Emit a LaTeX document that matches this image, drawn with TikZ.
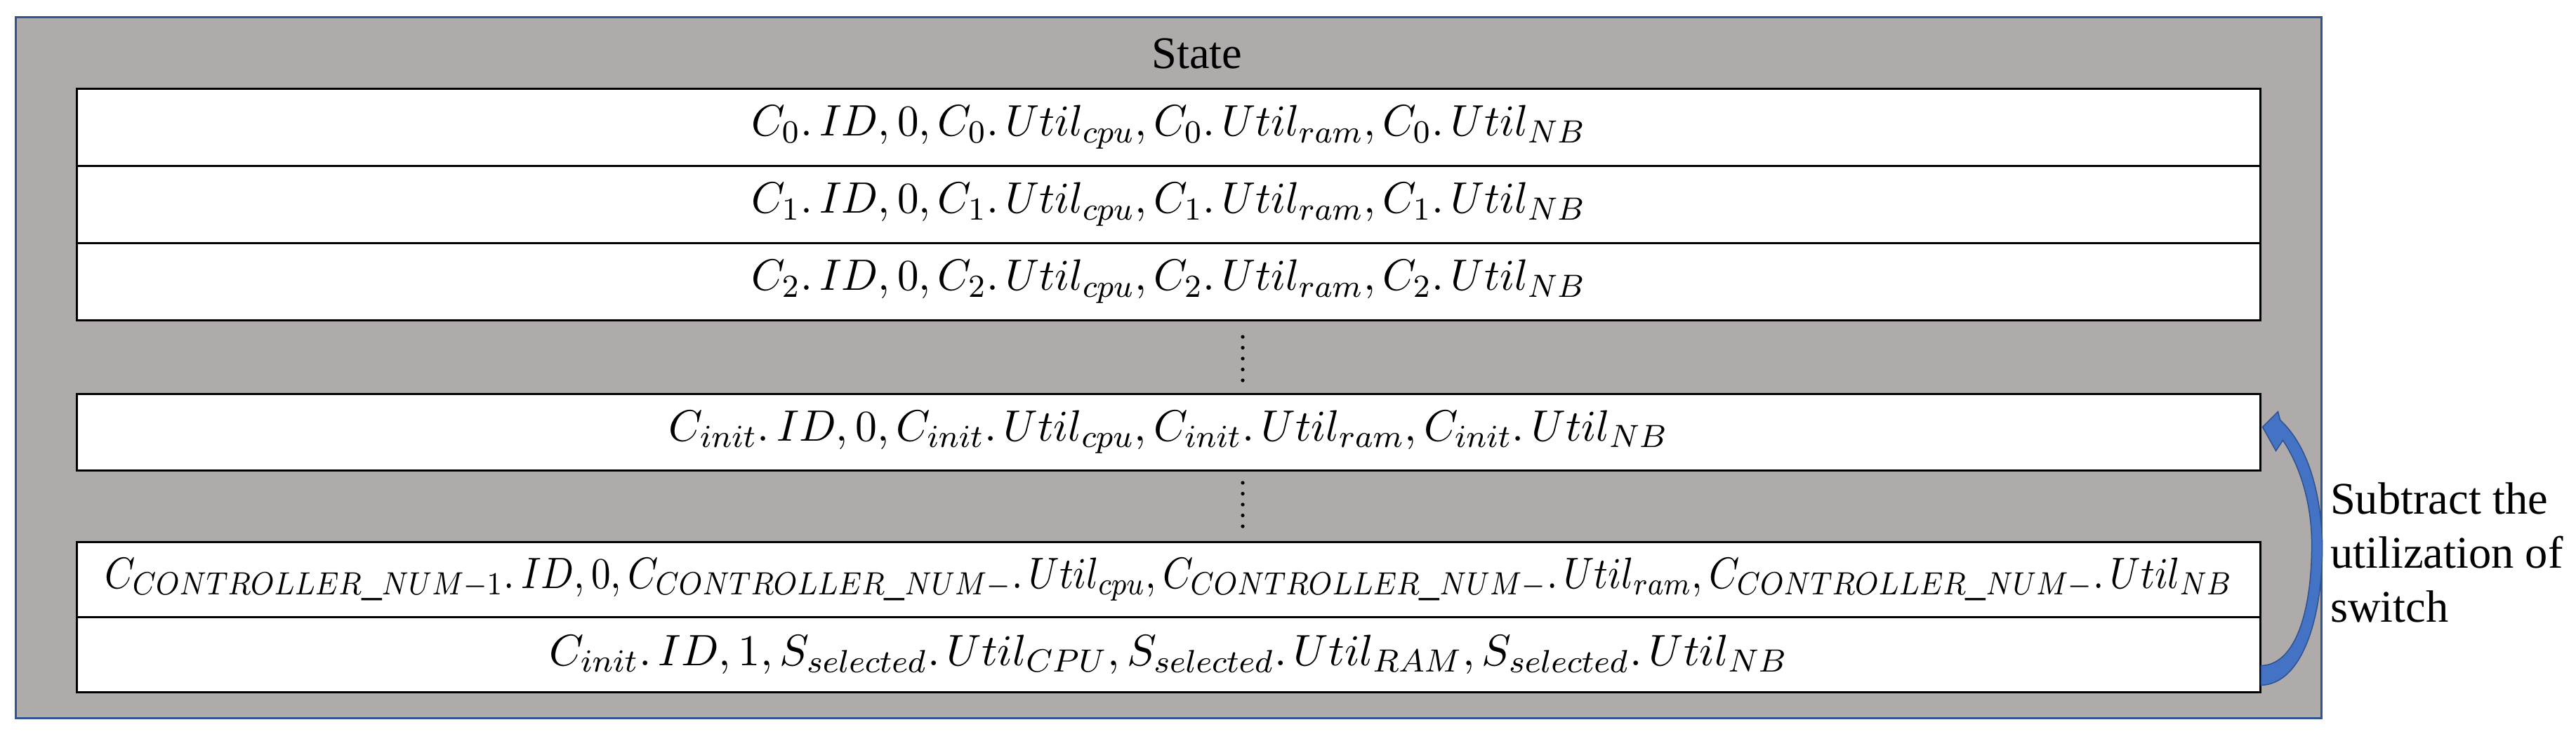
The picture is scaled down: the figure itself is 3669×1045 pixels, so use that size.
\documentclass[tikz,border=0pt]{standalone}
\usepackage[no-math]{fontspec}
\setmainfont{Liberation Serif}
\usetikzlibrary{calc}
\definecolor{framegray}{RGB}{175,171,171}
\definecolor{frameblue}{RGB}{47,85,151}
\definecolor{arrowblue}{RGB}{68,114,196}
\definecolor{arrowedge}{RGB}{47,82,143}
\newcommand{\rowtxt}[2]{\resizebox{#1}{8.7pt}{$#2$}}
\begin{document}
\begin{tikzpicture}[x=0.2pt,y=-0.2pt,
  framebox/.style={draw=frameblue, fill=framegray, line width=0.6pt, inner sep=0pt,
    minimum width=656.6pt, minimum height=199.8pt},
  rowbox/.style={draw=black, fill=white, line width=0.6pt, inner sep=0pt,
    minimum width=621.8pt, minimum height=22pt, font=\fontsize{11.4}{13}\selectfont},
  labeltext/.style={font=\fontsize{12.9}{15.4}\selectfont, inner sep=0pt},
  dotmark/.style={fill=black}
]
\useasboundingbox (0,0) rectangle (3669,1045);
% outer frame
\node[framebox] (frame) at (1664.5,523.5) {};
\node[labeltext, anchor=base] (state) at (1705,97) {State};
% rows
\node[rowbox] (r0) at (1664.5,181) {\rowtxt{237.7pt}{C_0.\,ID, 0, C_0.\,Util_{cpu}, C_0.\,Util_{ram}, C_0.\,Util_{NB}}};
\node[rowbox] (r1) at (1664.5,291) {\rowtxt{237.7pt}{C_1.\,ID, 0, C_1.\,Util_{cpu}, C_1.\,Util_{ram}, C_1.\,Util_{NB}}};
\node[rowbox] (r2) at (1664.5,401) {\rowtxt{237.7pt}{C_2.\,ID, 0, C_2.\,Util_{cpu}, C_2.\,Util_{ram}, C_2.\,Util_{NB}}};
\node[rowbox, minimum height=21.8pt] (cinit) at (1664.5,615.5) {\rowtxt{284.6pt}{C_{init}.\,ID, 0, C_{init}.\,Util_{cpu}, C_{init}.\,Util_{ram}, C_{init}.\,Util_{NB}}};
\node[rowbox, minimum height=21.4pt] (ctrl) at (1664.5,825.5) {\rowtxt{606pt}{C_{CONTROLLER\_NUM-1}.\,ID, 0, C_{CONTROLLER\_NUM-}.\,Util_{cpu}, C_{CONTROLLER\_NUM-}.\,Util_{ram}, C_{CONTROLLER\_NUM-}.\,Util_{NB}}};
\node[rowbox, minimum height=21.4pt] (last) at (1664.5,932.5) {\rowtxt{352.8pt}{C_{init}.\,ID, 1, S_{selected}.\,Util_{CPU}, S_{selected}.\,Util_{RAM}, S_{selected}.\,Util_{NB}}};
% vertical dots
\foreach \i in {0,...,4}{
  \fill[dotmark] (1770,480+15.5*\i) circle (2.6);
  \fill[dotmark] (1770,688+15.5*\i) circle (2.6);
}
% curved arrow
\path[fill=arrowblue, draw=arrowedge, line width=0.3pt]
  ($(last.east)+(0,44)$)
  .. controls ($(last.east)+(62,42)$) and ($(last.east)+(89,-62)$) .. ($(last.east)+(87,-162)$)
  .. controls ($(cinit.east)+(84,75)$) and ($(cinit.east)+(62,15)$) .. ($(cinit.east)+(27,-17)$)
  -- ($(cinit.east)+(24,-29)$)
  -- ($(cinit.east)+(2,-7)$)
  -- ($(cinit.east)+(21,27)$)
  -- ($(cinit.east)+(31,12)$)
  .. controls ($(cinit.east)+(53,45)$) and ($(cinit.east)+(71,95)$) .. ($(last.east)+(72,-162)$)
  .. controls ($(last.east)+(73,-62)$) and ($(last.east)+(49,15)$) .. ($(last.east)+(0,16)$)
  -- cycle;
\node[labeltext, anchor=west, align=left] (note) at (3318,787) {Subtract the\\utilization of\\switch};
\end{tikzpicture}
\end{document}
